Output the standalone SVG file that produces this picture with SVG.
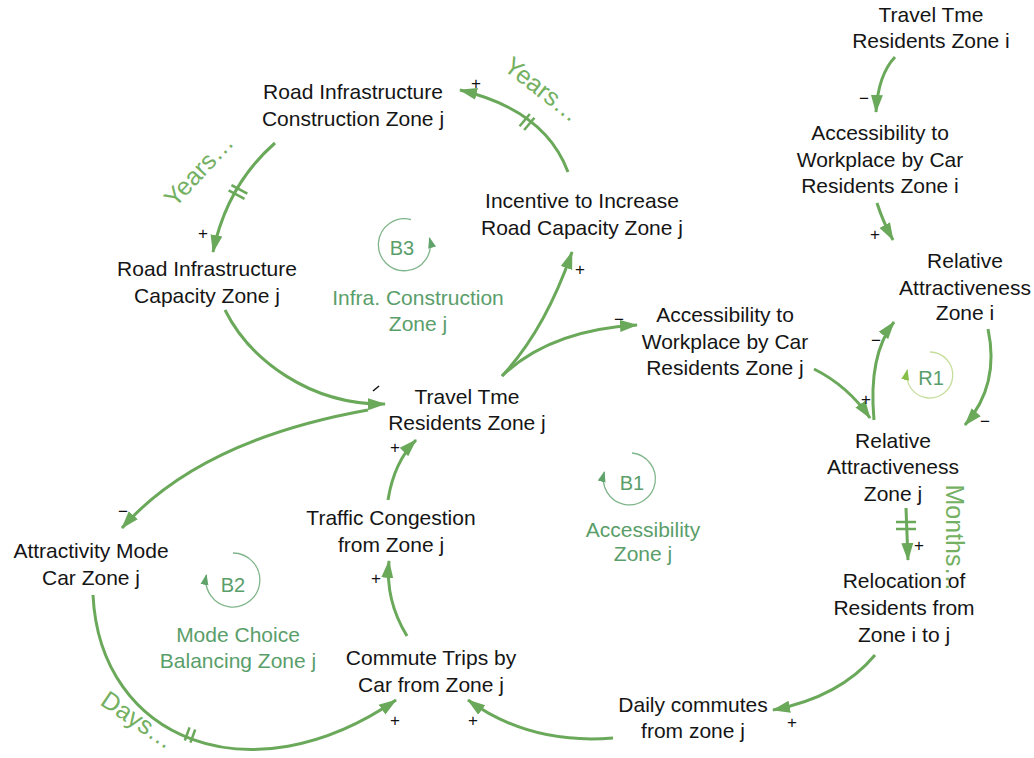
<svg xmlns="http://www.w3.org/2000/svg" width="1034" height="758" viewBox="0 0 1034 758">
  <style>
    .node text { font-family: "Liberation Sans", Arial, sans-serif; font-size: 21px; fill: #151515; text-anchor: middle; }
    .loop text { font-family: "Liberation Sans", Arial, sans-serif; font-size: 21px; fill: #5a9e6a; text-anchor: middle; }
    .delay { font-family: "Liberation Sans", Arial, sans-serif; font-size: 25px; fill: #74b062; text-anchor: middle; }
    .link { fill: none; stroke: #6aa85a; stroke-width: 3; marker-end: url(#head); }
    .hash { stroke: #6aa85a; stroke-width: 2.5; }
    .ring { fill: none; stroke: #7fb58a; stroke-width: 1.3; marker-end: url(#loophead); }
    .sign { font-family: "Liberation Sans", Arial, sans-serif; font-size: 17px; fill: #111; text-anchor: middle; }
  </style>
  <defs>
    <marker id="head" markerUnits="userSpaceOnUse" markerWidth="20" markerHeight="14" refX="17" refY="7" orient="auto">
      <path d="M0,1 L18,7 L0,13 Z" fill="#6aa85a"/>
    </marker>
    <marker id="loophead" markerUnits="userSpaceOnUse" markerWidth="12" markerHeight="10" refX="10" refY="5" orient="auto">
      <path d="M0,1 L11,5 L0,9 Z" fill="#5fa36a"/>
    </marker>
    <marker id="loophead2" markerUnits="userSpaceOnUse" markerWidth="12" markerHeight="10" refX="10" refY="5" orient="auto">
      <path d="M0,1 L11,5 L0,9 Z" fill="#86c048"/>
    </marker>
  </defs>

  <!-- connectors -->
  <g id="connectors">
    <!-- incentive -> construction -->
    <path class="link" d="M568,172 Q545,110 460,90"/>
    <g transform="translate(527,122) rotate(-140)"><line class="hash" x1="-3" y1="-8" x2="-3" y2="8"/><line class="hash" x1="3" y1="-8" x2="3" y2="8"/></g>
    <!-- construction -> capacity -->
    <path class="link" d="M275,143 Q227,185 213,252"/>
    <g transform="translate(238,192) rotate(118)"><line class="hash" x1="-3" y1="-9" x2="-3" y2="9"/><line class="hash" x1="3" y1="-9" x2="3" y2="9"/></g>
    <!-- capacity -> travel time j -->
    <path class="link" d="M225,310 C250,360 310,405 385,404"/>
    <!-- travel time j -> incentive -->
    <path class="link" d="M502,376 Q545,330 572,252"/>
    <!-- travel time j -> accessibility j -->
    <path class="link" d="M502,376 Q550,330 637,325"/>
    <!-- travel time j -> attractivity mode -->
    <path class="link" d="M368,410 Q200,440 122,528"/>
    <!-- attractivity mode -> commute trips -->
    <path class="link" d="M93,595 C100,740 250,800 396,700"/>
    <g transform="translate(190,735) rotate(20)"><line class="hash" x1="-3" y1="-7" x2="-3" y2="7"/><line class="hash" x1="3" y1="-7" x2="3" y2="7"/></g>
    <!-- commute trips -> traffic congestion -->
    <path class="link" d="M407,636 Q385,600 389,561"/>
    <!-- traffic congestion -> travel time j -->
    <path class="link" d="M388,500 Q394,462 416,440"/>
    <!-- daily commutes -> commute trips -->
    <path class="link" d="M613,738 Q530,745 468,700"/>
    <!-- relocation -> daily commutes -->
    <path class="link" d="M875,655 Q840,697 773,710"/>
    <!-- relative j -> relocation -->
    <path class="link" d="M906,508 L908,560"/>
    <line class="hash" x1="896" y1="522" x2="916" y2="522"/>
    <line class="hash" x1="896" y1="529" x2="916" y2="529"/>
    <!-- accessibility j -> relative j -->
    <path class="link" d="M814,369 Q848,386 870,418"/>
    <!-- relative j -> relative i -->
    <path class="link" d="M874,420 Q868,355 894,322"/>
    <!-- relative i -> relative j -->
    <path class="link" d="M988,329 Q1000,385 965,425"/>
    <!-- travel time i -> accessibility i -->
    <path class="link" d="M895,57 Q878,75 876,112"/>
    <!-- accessibility i -> relative i -->
    <path class="link" d="M877,203 Q883,222 893,240"/>

    <!-- polarity signs -->
    <text class="sign" x="476" y="89">+</text>
    <text class="sign" x="203" y="239">+</text>
    <line x1="373" y1="391" x2="379" y2="386" stroke="#111" stroke-width="1.5"/>
    <text class="sign" x="580" y="275">+</text>
    <text class="sign" x="619" y="325">−</text>
    <text class="sign" x="123" y="517">−</text>
    <text class="sign" x="395" y="726">+</text>
    <text class="sign" x="376" y="584">+</text>
    <text class="sign" x="395" y="453">+</text>
    <text class="sign" x="473" y="726">+</text>
    <text class="sign" x="792" y="728">+</text>
    <text class="sign" x="919" y="551">+</text>
    <text class="sign" x="866" y="405">+</text>
    <text class="sign" x="876" y="346">−</text>
    <text class="sign" x="985" y="427">−</text>
    <text class="sign" x="864" y="104">−</text>
    <text class="sign" x="875" y="240">+</text>

    <!-- delay annotations -->
    <text class="delay" transform="translate(537,96) rotate(38)">Years…</text>
    <text class="delay" transform="translate(205,176) rotate(-47)">Years…</text>
    <text class="delay" transform="translate(133,727) rotate(34)">Days…</text>
    <text class="delay" transform="translate(946,538) rotate(90)">Months…</text>
  </g>

  <!-- nodes -->
  <g id="road-construction" class="node"><text x="353" y="99">Road Infrastructure</text><text x="353" y="126">Construction Zone j</text></g>
  <g id="road-capacity" class="node"><text x="207" y="276">Road Infrastructure</text><text x="207" y="303">Capacity Zone j</text></g>
  <g id="incentive" class="node"><text x="582" y="208">Incentive to Increase</text><text x="582" y="235">Road Capacity Zone j</text></g>
  <g id="travel-time-j" class="node"><text x="467" y="404">Travel Tme</text><text x="467" y="430">Residents Zone j</text></g>
  <g id="accessibility-j" class="node"><text x="725" y="322">Accessibility to</text><text x="725" y="349">Workplace by Car</text><text x="725" y="375">Residents Zone j</text></g>
  <g id="travel-time-i" class="node"><text x="931" y="22">Travel Tme</text><text x="931" y="48">Residents Zone i</text></g>
  <g id="accessibility-i" class="node"><text x="880" y="140">Accessibility to</text><text x="880" y="167">Workplace by Car</text><text x="880" y="193">Residents Zone i</text></g>
  <g id="relative-i" class="node"><text x="965" y="268">Relative</text><text x="965" y="295">Attractiveness</text><text x="965" y="320">Zone i</text></g>
  <g id="relative-j" class="node"><text x="893" y="448">Relative</text><text x="893" y="474">Attractiveness</text><text x="893" y="501">Zone j</text></g>
  <g id="relocation" class="node"><text x="904" y="588">Relocation of</text><text x="904" y="615">Residents from</text><text x="904" y="642">Zone i to j</text></g>
  <g id="daily-commutes" class="node"><text x="693" y="712">Daily commutes</text><text x="693" y="738">from zone j</text></g>
  <g id="commute-trips" class="node"><text x="431" y="665">Commute Trips by</text><text x="431" y="692">Car from Zone j</text></g>
  <g id="traffic-congestion" class="node"><text x="391" y="525">Traffic Congestion</text><text x="391" y="552">from Zone j</text></g>
  <g id="attractivity-mode" class="node"><text x="91" y="558">Attractivity Mode</text><text x="91" y="585">Car Zone j</text></g>

  <!-- loop markers -->
  <g id="loop-b3" class="loop">
    <path class="ring" d="M411,219.6 A26,26 0 1 0 429.5,238"/>
    <text x="402" y="255" style="font-size:20px">B3</text>
    <text x="418" y="305">Infra. Construction</text>
    <text x="418" y="331">Zone j</text>
  </g>
  <g id="loop-b1" class="loop">
    <path class="ring" d="M632,453 A26,26 0 1 1 604.3,472"/>
    <text x="632" y="490" style="font-size:20px">B1</text>
    <text x="643" y="537">Accessibility</text>
    <text x="643" y="561">Zone j</text>
  </g>
  <g id="loop-b2" class="loop">
    <path class="ring" d="M233,553 A27,27 0 1 1 206.3,575"/>
    <text x="233" y="592" style="font-size:20px">B2</text>
    <text x="238" y="642">Mode Choice</text>
    <text x="238" y="668">Balancing Zone j</text>
  </g>
  <g id="loop-r1" class="loop">
    <path d="M930,352 A23,23 0 1 1 907.3,370" fill="none" stroke="#c6de9c" stroke-width="1.3" marker-end="url(#loophead2)"/>
    <text x="931" y="385" style="font-size:20px">R1</text>
  </g>
</svg>
